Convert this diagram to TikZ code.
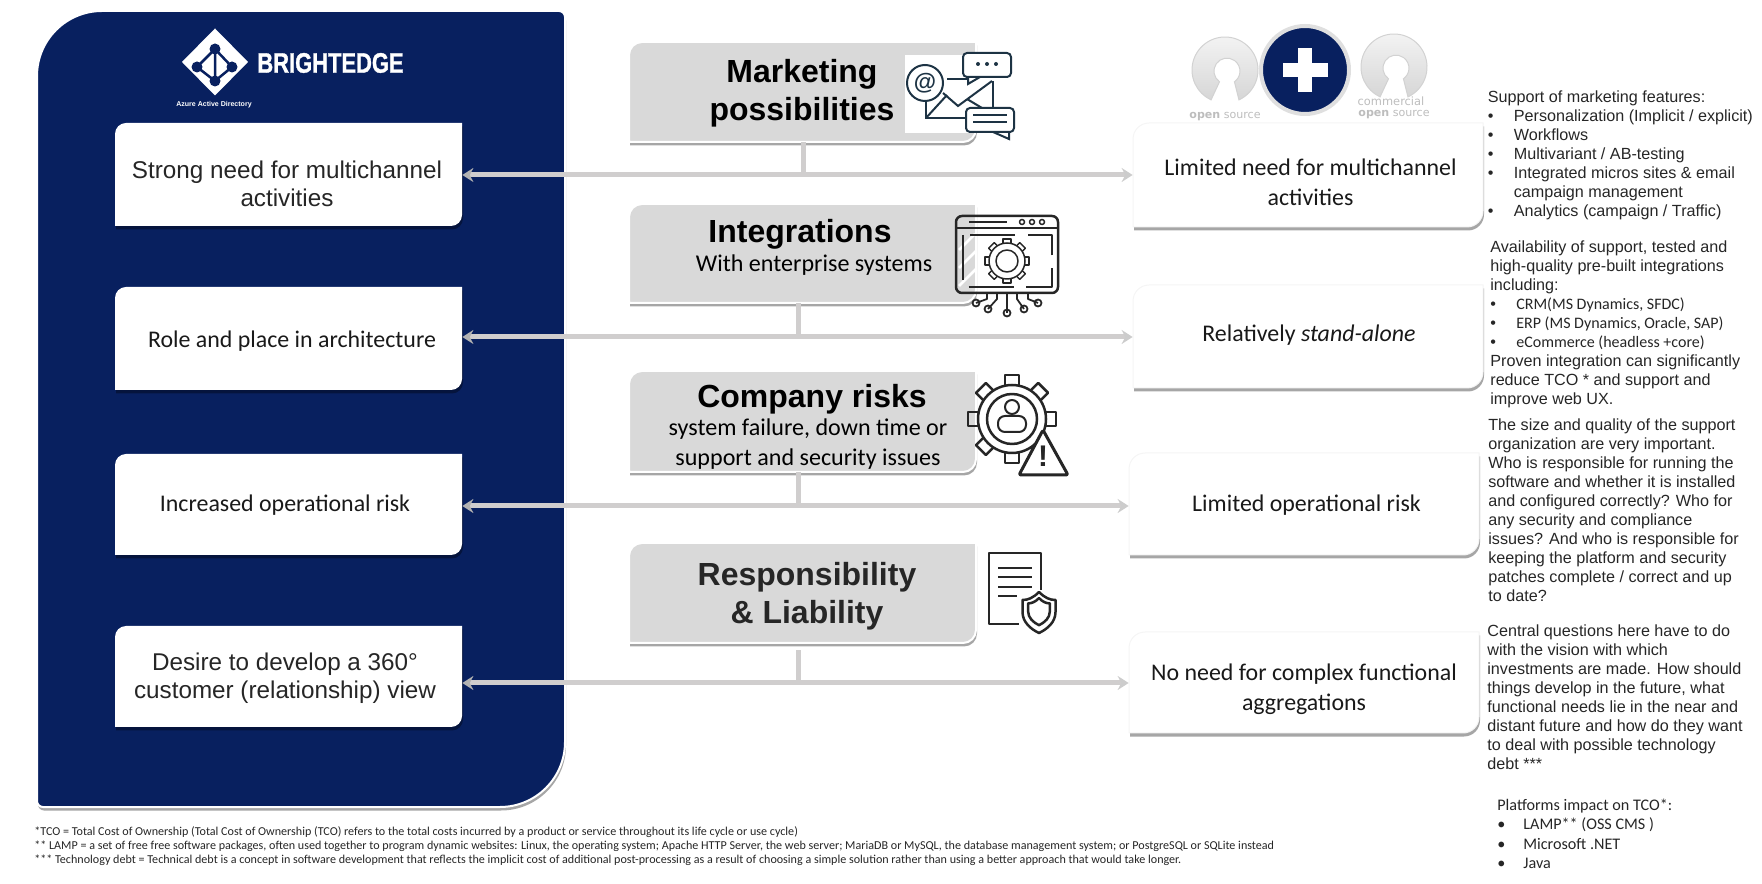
\documentclass[tikz,border=0pt]{standalone}
\usepackage{graphicx}
\usepackage{fontspec}
\setmainfont{Liberation Sans}
\newfontfamily\carlito{Carlito}
\newfontfamily\dejavu{DejaVu Sans}
\newfontfamily\brandfont[FakeBold=1.2]{Liberation Sans Bold}
\usetikzlibrary{arrows.meta,shadows}

\definecolor{navy}{HTML}{08205F}
\definecolor{cardgray}{HTML}{D9D9D9}
\definecolor{linkgray}{HTML}{D0CECE}
\definecolor{logogray}{HTML}{BDBDBD}
\definecolor{slate}{HTML}{1D3344}

\tikzset{
    softshadow/.style={drop shadow={shadow xshift=0.02cm,shadow yshift=-0.07cm,opacity=0.35,fill=black}},
    whitecard/.style={fill=white,softshadow},
    paperedge/.style={fill=white,draw=black!4,line width=0.02cm,softshadow},
    graycard/.style={fill=cardgray,draw=white,line width=0.04cm,softshadow},
    armtext/.style={align=center,inner sep=0pt,font=\fontsize{13.8}{16}\selectfont,text=black!85},
    calitext/.style={align=center,inner sep=0pt,font=\carlito\fontsize{13.6}{17}\selectfont,text=black!90},
    headtext/.style={align=center,inner sep=0pt,font=\bfseries\fontsize{18.2}{21.6}\selectfont},
    subtext/.style={align=center,inner sep=0pt,font=\carlito\fontsize{13.7}{17}\selectfont},
    notetext/.style={align=left,anchor=north west,inner sep=0pt,font=\fontsize{9.2}{10.85}\selectfont,text=black!85},
    foottext/.style={align=left,anchor=north west,inner sep=0pt,font=\carlito\fontsize{6.88}{8}\selectfont,text=black!85},
    link/.style={{Stealth[length=0.22cm,width=0.28cm,color=black!30]}-{Stealth[length=0.22cm,width=0.28cm,color=black!20]},draw=linkgray,line width=0.1cm},
    stem/.style={draw=linkgray,line width=0.1cm},
    iconline/.style={draw=black!85,line width=0.05cm,line join=round},
    osilogo/.style={top color=gray!8,bottom color=gray!32,draw=gray!35,line width=0.02cm},
}

\newcommand{\cardbox}[7]{%
    \path[#2] (#3,{#4-#7}) arc[start angle=180,end angle=90,radius=#7] -- (#5,#4) -- (#5,{#6+#7}) arc[start angle=0,end angle=-90,radius=#7] -- (#3,#6) -- cycle;
    \node (#1) [minimum width={(#5-(#3))*1cm},minimum height={(#4-(#6))*1cm},inner sep=0pt] at ({(#3+#5)/2},{(#4+#6)/2}) {};
}
\newcommand{\itm}[1]{\makebox[0.52cm][l]{\textbullet}#1}
\newcommand{\calitem}[1]{\makebox[0.52cm][l]{\textbullet}{\carlito\fontsize{9.1}{10.85}\selectfont #1}}

\begin{document}
\begin{tikzpicture}[>=Stealth]
    \useasboundingbox (0,0) rectangle (35.24,-17.68);

    % left panel
    \path[fill=navy,draw=white,line width=0.04cm,softshadow] (0.74,-1.52) arc[start angle=180,end angle=90,radius=1.3] -- (11.18,-0.22) arc[start angle=90,end angle=0,radius=0.12] -- (11.3,-14.84) arc[start angle=0,end angle=-90,radius=1.3] -- (0.86,-16.14) arc[start angle=270,end angle=180,radius=0.12] -- cycle;
    \path[fill=white] (4.30,-0.57) -- (4.96,-1.24) -- (4.30,-1.91) -- (3.64,-1.24) -- cycle;
    \coordinate (nettop) at (4.30,-0.98);
    \coordinate (netleft) at (3.94,-1.34);
    \coordinate (netright) at (4.64,-1.34);
    \coordinate (netbottom) at (4.30,-1.62);
    \draw[navy,line width=0.05cm] (nettop) -- (netleft) -- (netbottom) -- (netright) -- (nettop) -- (netbottom);
    \foreach \n in {nettop,netleft,netright,netbottom}
        \fill[navy] (\n) circle (0.11);
    \node (brand) at (6.61,-1.26) [text=white,inner sep=0pt,font=\brandfont\fontsize{16}{16}\selectfont] {\scalebox{0.78}[1]{BRIGHTEDGE}};
    \node (azure) at (4.28,-2.10) [text=white,inner sep=0pt,font=\bfseries\fontsize{4}{4}\selectfont] {Azure Active Directory};

    % cards
    \cardbox{strong}{whitecard}{2.30}{-2.46}{9.24}{-4.52}{0.22}
    \cardbox{role}{whitecard}{2.30}{-5.74}{9.24}{-7.80}{0.22}
    \cardbox{increased}{whitecard}{2.30}{-9.08}{9.24}{-11.10}{0.22}
    \cardbox{desire}{whitecard}{2.30}{-12.52}{9.24}{-14.54}{0.22}
    \cardbox{marketing}{graycard}{12.58}{-0.84}{19.52}{-2.84}{0.26}
    \cardbox{integrations}{graycard}{12.58}{-4.08}{19.52}{-6.06}{0.26}
    \cardbox{risks}{graycard}{12.58}{-7.42}{19.52}{-9.44}{0.26}
    \cardbox{liability}{graycard}{12.58}{-10.86}{19.52}{-12.86}{0.26}
    \cardbox{limited}{paperedge}{22.66}{-2.46}{29.66}{-4.54}{0.32}
    \cardbox{alone}{paperedge}{22.66}{-5.70}{29.66}{-7.76}{0.32}
    \cardbox{lowrisk}{paperedge}{22.58}{-9.06}{29.58}{-11.10}{0.32}
    \cardbox{noneed}{paperedge}{22.58}{-12.64}{29.58}{-14.66}{0.32}

    % connectors
    \coordinate (busa) at (16.06,-3.50);
    \coordinate (busb) at (15.96,-6.74);
    \coordinate (busc) at (15.96,-10.12);
    \coordinate (busd) at (15.96,-13.66);
    \draw[link] (strong.east |- busa) -- (limited.west |- busa);
    \draw[link] (role.east |- busb) -- (alone.west |- busb);
    \draw[link] (increased.east |- busc) -- (lowrisk.west |- busc);
    \draw[link] (desire.east |- busd) -- (noneed.west |- busd);
    \draw[stem] (busa |- marketing.south) -- (busa);
    \draw[stem] (busb |- integrations.south) -- (busb);
    \draw[stem] (busc |- risks.south) -- (busc);
    \draw[stem,shorten <=0.14cm] (busd |- liability.south) -- (busd);

    % card texts
    \node (stronglabel) at (5.74,-3.68) [armtext] {Strong need for multichannel\\activities};
    \node (rolelabel) at (5.84,-6.82) [calitext] {Role and place in architecture};
    \node (increasedlabel) at (5.70,-10.10) [calitext] {Increased operational risk};
    \node (desirelabel) at (5.70,-13.56) [armtext] {Desire to develop a 360°\\customer (relationship) view};
    \node (marketinglabel) at (16.04,-1.87) [headtext] {Marketing\\possibilities};
    \node (integrationslabel) at (16.00,-4.69) [headtext] {Integrations};
    \node (integrationssub) at (16.28,-5.30) [subtext] {With enterprise systems};
    \node (riskslabel) at (16.24,-7.99) [headtext] {Company risks};
    \node (riskssub) at (16.16,-8.88) [subtext] {system failure, down time or\\support and security issues};
    \node (liabilitylabel) at (16.14,-11.93) [headtext,text=black!85] {Responsibility\\\& Liability};
    \node (limitedlabel) at (26.21,-3.64) [calitext] {Limited need for multichannel\\activities};
    \node (alonelabel) at (26.18,-6.70) [calitext] {Relatively \textit{stand-alone}};
    \node (lowrisklabel) at (26.13,-10.10) [calitext] {Limited operational risk};
    \node (noneedlabel) at (26.08,-13.79) [calitext] {No need for complex functional\\aggregations};

    % notes on the right
    \node (notea) at (29.75,-1.80) [notetext] {Support of marketing features:\\
        \itm{Personalization (Implicit / explicit)}\\
        \itm{Workflows}\\
        \itm{Multivariant / AB-testing}\\
        \itm{Integrated micros sites \& email}\\
        \makebox[0.52cm]{}campaign management\\
        \itm{Analytics (campaign / Traffic)}};
    \node (noteb) at (29.80,-4.80) [notetext] {Availability of support, tested and\\
        high-quality pre-built integrations\\
        including:\\
        \calitem{CRM(MS Dynamics, SFDC)}\\
        \calitem{ERP (MS Dynamics, Oracle, SAP)}\\
        \calitem{eCommerce (headless +core)}\\
        Proven integration can significantly\\
        reduce TCO * and support and\\
        improve web UX.};
    \node (notec) at (29.76,-8.36) [notetext] {The size and quality of the support\\
        organization are very important.\\
        Who is responsible for running the\\
        software and whether it is installed\\
        and configured correctly? Who for\\
        any security and compliance\\
        issues? And who is responsible for\\
        keeping the platform and security\\
        patches complete / correct and up\\
        to date?};
    \node (noted) at (29.74,-12.48) [notetext] {Central questions here have to do\\
        with the vision with which\\
        investments are made. How should\\
        things develop in the future, what\\
        functional needs lie in the near and\\
        distant future and how do they want\\
        to deal with possible technology\\
        debt ***};
    \node (notee) at (29.94,-15.98) [notetext,font=\carlito\fontsize{9.2}{10.9}\selectfont] {Platforms impact on TCO*:\\
        \itm{LAMP** (OSS CMS )}\\
        \itm{Microsoft .NET}\\
        \itm{Java}};

    % footnotes
    \node (footnotes) at (0.68,-16.53) [foottext] {*TCO = Total Cost of Ownership (Total Cost of Ownership (TCO) refers to the total costs incurred by a product or service throughout its life cycle or use cycle)\\
        ** LAMP = a set of free free software packages, often used together to program dynamic websites: Linux, the operating system; Apache HTTP Server, the web server; MariaDB or MySQL, the database management system; or PostgreSQL or SQLite instead\\
        *** Technology debt = Technical debt is a concept in software development that reflects the implicit cost of additional post-processing as a result of choosing a simple solution rather than using a better approach that would take longer.};

    % open source logos
    \foreach \cx/\cy in {24.50/-1.40,27.88/-1.34}
        \path[osilogo] (\cx,\cy) ++(-65:0.66) arc[start angle=-65,end angle=245,radius=0.66] -- ++(65:0.40) arc[start angle=235,end angle=-55,radius=0.26] -- cycle;
    \node (opensource) at (24.50,-2.34) [inner sep=0pt,text=logogray,font=\dejavu\fontsize{6.3}{6}\selectfont] {\textbf{open} source};
    \node (commercial) at (27.82,-2.03) [inner sep=0pt,text=logogray,font=\dejavu\fontsize{6.5}{6}\selectfont] {commercial};
    \node (opensourceb) at (27.88,-2.29) [inner sep=0pt,text=logogray,font=\dejavu\fontsize{6.3}{6}\selectfont] {\textbf{open} source};
    \fill[navy,draw=gray!25,line width=0.08cm] (26.10,-1.40) circle (0.88);
    \fill[white] (25.65,-1.26) rectangle (26.55,-1.54);
    \fill[white] (25.96,-0.96) rectangle (26.24,-1.84);

    % marketing icon
    \fill[white] (18.10,-1.10) rectangle (19.60,-2.66);
    \draw[slate,line width=0.04cm] (18.52,-2.00) -- (18.52,-2.36) -- (19.32,-2.36);
    \draw[slate,line width=0.04cm] (18.94,-1.58) -- (19.36,-1.58);
    \draw[slate,line width=0.04cm] (19.86,-1.62) -- (19.86,-2.16);
    \draw[slate,line width=0.04cm] (18.52,-2.36) -- (18.94,-1.90);
    \draw[slate,line width=0.04cm] (18.86,-1.86) -- (19.16,-2.12) -- (19.84,-1.62);
    \draw[slate,line width=0.04cm] (19.34,-1.98) -- (19.64,-2.16);
    \draw[slate,line width=0.04cm,fill=white] (18.50,-1.66) circle (0.36);
    \node (atsign) at (18.50,-1.66) [inner sep=0pt,text=slate,font=\bfseries\fontsize{13}{13}\selectfont] {@};
    \draw[slate,line width=0.04cm,fill=white] (19.36,-1.54) -- (19.36,-1.68) -- (19.60,-1.54);
    \draw[slate,line width=0.04cm,fill=white,rounded corners=0.08cm] (19.26,-1.06) rectangle (20.22,-1.54);
    \foreach \x in {19.56,19.74,19.92}
        \fill[slate] (\x,-1.28) circle (0.04);
    \draw[slate,line width=0.04cm,fill=white] (19.86,-2.64) -- (20.18,-2.78) -- (20.18,-2.64);
    \draw[slate,line width=0.04cm,fill=white,rounded corners=0.08cm] (19.32,-2.16) rectangle (20.28,-2.64);
    \foreach \y in {-2.30,-2.44}
        \draw[slate,line width=0.04cm] (19.46,\y) -- (20.14,\y);

    % integrations icon
    \draw[white,line width=0.05cm] (19.18,-5.00) -- (19.50,-4.68) (19.18,-5.36) -- (19.52,-5.02) (19.18,-5.72) -- (19.52,-5.38);
    \draw[iconline,rounded corners=0.12cm] (19.12,-4.32) rectangle (21.16,-5.86);
    \draw[iconline] (19.12,-4.56) -- (21.16,-4.56);
    \draw[iconline] (19.38,-4.44) -- (20.14,-4.44);
    \foreach \x in {20.44,20.64,20.84}
        \draw[iconline,line width=0.03cm] (\x,-4.44) circle (0.05);
    \draw[iconline,dash pattern=on 0.9cm off 0.25cm] (19.26,-4.70) rectangle (21.04,-5.74);
    \begin{scope}[shift={(20.14,-5.22)}]
        \foreach \a in {0,45,...,315}
            \draw[iconline,rotate=\a,line width=0.03cm] (-0.08,0.3) rectangle (0.08,0.44);
        \draw[iconline,line width=0.03cm,fill=white] (0,0) circle (0.36);
        \draw[iconline,line width=0.03cm] (0,0) circle (0.22);
    \end{scope}
    \foreach \xs/\xp/\yp in {19.74/19.52/-6.06,19.94/19.76/-6.18,20.14/20.14/-6.26,20.34/20.48/-6.18,20.56/20.76/-6.06}
        \draw[iconline,line width=0.035cm] (\xs,-5.86) -- (\xs,-5.98) -- (\xp,\yp) circle (0.07);

    % risk icon
    \begin{scope}[shift={(20.24,-8.38)}]
        \foreach \a in {0,45,...,315}
            \draw[iconline,rotate=\a] (-0.14,0.6) rectangle (0.14,0.88);
        \draw[iconline,fill=white] (0,0) circle (0.68);
        \draw[iconline] (0,0) circle (0.5);
        \draw[iconline,line width=0.04cm] (0,0.24) circle (0.14);
        \draw[iconline,line width=0.04cm,rounded corners=0.14cm] (-0.28,-0.26) rectangle (0.28,0.06);
        \draw[iconline,line width=0.06cm,fill=white,rounded corners=0.04cm] (0.62,-0.22) -- (1.12,-1.12) -- (0.14,-1.12) -- cycle;
    \end{scope}
    \node (warning) at (20.86,-9.12) [inner sep=0pt,text=black!85,font=\bfseries\fontsize{17}{17}\selectfont] {!};

    % liability icon
    \draw[iconline] (20.82,-11.80) -- (20.82,-11.06) -- (19.78,-11.06) -- (19.78,-12.48) -- (20.38,-12.48);
    \foreach \y in {-11.36,-11.54,-11.74}
        \draw[iconline] (19.96,\y) -- (20.64,\y);
    \draw[iconline] (19.96,-11.92) -- (20.34,-11.92);
    \begin{scope}[shift={(20.78,-12.20)}]
        \foreach \s in {1,0.66}
            \draw[iconline,scale=\s] (0,0.36) .. controls (0.12,0.24) and (0.22,0.2) .. (0.33,0.2) -- (0.33,-0.04) .. controls (0.33,-0.24) and (0.17,-0.38) .. (0,-0.46) .. controls (-0.17,-0.38) and (-0.33,-0.24) .. (-0.33,-0.04) -- (-0.33,0.2) .. controls (-0.22,0.2) and (-0.12,0.24) .. (0,0.36) -- cycle;
    \end{scope}
\end{tikzpicture}
\end{document}
